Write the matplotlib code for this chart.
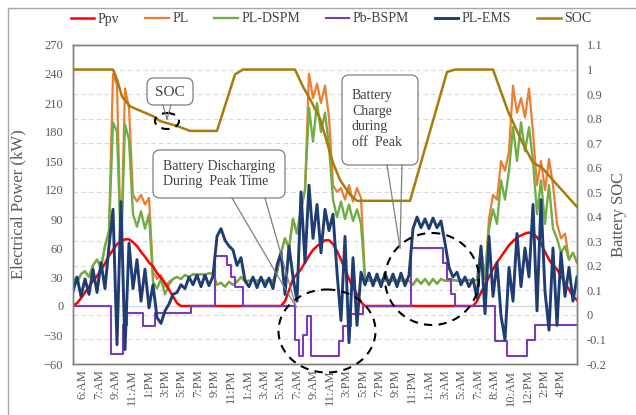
import numpy as np
import matplotlib
matplotlib.use("Agg")
import matplotlib.pyplot as plt
from matplotlib.patches import FancyBboxPatch, Ellipse
from matplotlib.lines import Line2D
from matplotlib.transforms import blended_transform_factory

plt.rcParams['font.family'] = ['Liberation Serif', 'DejaVu Serif']

# ---------------- data ----------------
time_labels = ["6:AM", "7:AM", "9:AM", "11:AM", "1:PM", "3:PM", "5:PM", "7:PM",
               "9:PM", "11:PM", "1:AM", "3:AM", "5:AM", "7:AM", "9:AM", "11:AM",
               "3:PM", "5:PM", "7:PM", "9:PM", "11:PM", "1:AM", "3:AM", "5:AM",
               "7:AM", "8:AM", "10:AM", "12:PM", "2:PM", "4:PM"]

ppv = [0, 3, 8, 14, 20, 26, 31, 37, 44, 52,
       58, 64, 67, 69, 69, 66, 62, 56, 51, 45,
       41, 34, 29, 24, 17, 10, 3, 0, 0, 0,
       0, 0, 0, 0, 0, 0, 0, 0, 0, 0,
       0, 0, 0, 0, 0, 0, 0, 0, 0, 0,
       0, 0, 0, 5, 16, 28, 33, 38, 45, 52,
       58, 62, 65, 68, 68, 64, 57, 48, 38, 28,
       19, 12, 4, 0, 0, 0, 0, 0, 0, 0,
       0, 0, 0, 0, 0, 0, 0, 0, 0, 0,
       0, 0, 0, 0, 0, 0, 0, 0, 0, 0,
       0, 5, 14, 22, 30, 38, 45, 51, 57, 63,
       67, 71, 73, 75, 76, 75, 71, 65, 56, 48,
       42, 38, 31, 24, 17, 10, 6]

pl = [30, 24, 33, 36, 30, 42, 48, 40, 62, 78,
      240, 228, 55, 225, 205, 115, 108, 115, 105, 112,
      35, 28, 32, 20, 25, 28, 30, 28, 32, 30,
      33, 32, 33, 32, 34, 33, 22, 24, 20, 25,
      22, 25, 30, 26, 26, 27, 26, 27, 26, 27,
      26, 35, 55, 70, 60, 90, 75, 100, 120, 240,
      215, 230, 210, 228, 195, 125, 118, 122, 110, 125,
      108, 122, 112, 28, 26, 27, 26, 27, 26, 27,
      26, 27, 26, 27, 26, 22, 28, 23, 28, 22,
      28, 23, 28, 26, 26, 27, 26, 27, 26, 27,
      26, 27, 60, 28, 90, 115, 110, 150, 140, 160,
      228, 200, 215, 195, 225, 180, 125, 150, 120, 152,
      125, 85, 70, 75, 48, 55, 45]

pl_dspm = [30, 24, 33, 36, 30, 42, 48, 40, 62, 78,
           190, 180, 55, 188, 172, 95, 82, 98, 80, 95,
           25, 18, 28, 12, 22, 28, 30, 28, 32, 30,
           33, 32, 33, 32, 34, 33, 22, 24, 20, 25,
           22, 25, 30, 26, 26, 27, 26, 27, 26, 27,
           26, 35, 55, 70, 60, 90, 75, 100, 120, 205,
           170, 210, 180, 200, 165, 110, 92, 108, 90, 105,
           88, 100, 85, 28, 26, 27, 26, 27, 26, 27,
           26, 27, 26, 27, 26, 22, 28, 23, 28, 22,
           28, 23, 28, 26, 26, 27, 26, 27, 26, 27,
           26, 27, 60, 28, 80, 100, 85, 130, 110, 140,
           185, 150, 190, 160, 185, 150, 95, 130, 85, 125,
           80, 70, 55, 62, 48, 55, 45]

pb_bspm = [0, 0, 0, 0, 0, 0, 0, 0, 0, 0,
           -50, -50, -50, -20, -7, -7, -7, -7, -21, -21,
           -21, -7, -7, -7, -7, -7, -7, -7, -7, -7,
           0, 0, 0, 0, 0, 0, 52, 52, 52, 42,
           30, 20, 20, 0, 0, 0, 0, 0, 0, 0,
           0, 0, 0, 0, 0, 0, -35, -52, -30, -10,
           -52, -52, -52, -52, -52, -52, -52, -36, -21, -21,
           -8, -8, -8, 0, 0, 0, 0, 0, 0, 0,
           0, 0, 0, 0, 0, 60, 60, 60, 60, 60,
           60, 60, 60, 45, 28, 12, 0, 0, 0, 0,
           0, 0, 0, 0, 0, 0, -36, -36, -36, -52,
           -52, -52, -52, -52, -35, -35, -20, -20, -20, -20,
           -20, -20, -20, -20, -20, -20, -20]

pl_ems = [15, 30, 10, 28, 12, 38, 14, 45, 18, 62,
          100, -40, 108, -45, 65, 18, 48, 5, 38, -2,
          22, -12, -18, -5, 2, 12, 14, 22, 18, 30,
          22, 32, 20, 32, 21, 31, 72, 80, 68, 62,
          58, 42, 50, 26, 20, 30, 19, 30, 20, 29,
          18, 42, 55, 12, 62, 30, 5, 118, 45, 125,
          70, 105, 55, 100, 78, 95, 35, -15, 72, -38,
          50, -20, 35, 22, 34, 21, 33, 20, 34, 22,
          33, 20, 34, 21, 32, 80, 92, 81, 90, 80,
          91, 81, 88, 65, 40, 30, 35, 22, 30, 20,
          28, 8, 62, -8, 72, 10, 45, -10, -35, 40,
          5, 75, 20, 60, 30, 105, -5, 110, 15, -25,
          60, -20, 55, 10, 40, 5, 30]

# SOC: sample index (same time grid as above) and value
soc_idx = [0, 10, 11, 12.25, 14.25, 20, 21.75, 26, 29.25, 36, 40.5, 42.5,
           55.5, 57.5, 59.25, 61.75, 65, 66.75, 69.25, 71, 84.25, 93.5, 95.5,
           105, 108.75, 112.25, 115, 117.25, 120.5, 126]
soc_val = [1.0, 1.0, 0.96, 0.89, 0.85, 0.81, 0.79, 0.77, 0.75, 0.75, 0.98, 1.0,
           1.0, 0.93, 0.88, 0.80, 0.62, 0.55, 0.49, 0.465, 0.465, 0.99, 1.0,
           1.0, 0.83, 0.705, 0.62, 0.60, 0.54, 0.44]

power_ticks = list(range(-60, 271, 30))
soc_ticks = [-0.2, -0.1, 0, 0.1, 0.2, 0.3, 0.4, 0.5, 0.6, 0.7, 0.8, 0.9, 1, 1.1]

# ---------------- figure ----------------
W, H = 636, 415
fig = plt.figure(figsize=(W / 100, H / 100), dpi=100)
ax = fig.add_axes([73 / W, 1 - 364 / H, 504 / W, 319 / H])
ax2 = ax.twinx()

XMIN, XMAX = -0.6, 30.0
t = np.linspace(XMIN, XMAX, len(ppv))
step = t[1] - t[0]
t_soc = XMIN + np.array(soc_idx) * step

ax.set_xlim(XMIN, XMAX)
ax.set_ylim(-60, 270)
ax2.set_ylim(-0.2, 1.1)

txt_col = '#595959'
c_ppv, c_pl, c_dspm, c_pb, c_ems, c_soc = '#FF0000', '#ED7D31', '#70AD47', '#7A3DB8', '#1F3D73', '#A67C0A'

l_pl, = ax.plot(t, pl, color=c_pl, lw=1.6, zorder=2, label='PL')
l_dspm, = ax.plot(t, pl_dspm, color=c_dspm, lw=1.7, zorder=3, label='PL-DSPM')
l_ppv, = ax.plot(t, ppv, color=c_ppv, lw=1.8, zorder=4, label='Ppv')
l_pb, = ax.plot(t, pb_bspm, color=c_pb, lw=1.5, drawstyle='steps-mid', zorder=5, label='Pb-BSPM')
l_ems, = ax.plot(t, pl_ems, color=c_ems, lw=2.1, zorder=6, label='PL-EMS')
l_soc, = ax2.plot(t_soc, soc_val, color=c_soc, lw=1.8, zorder=7, label='SOC')

# gridlines at SOC ticks, drawn behind data
gtrans = blended_transform_factory(ax.transAxes, ax2.transData)
for s in soc_ticks[1:-1]:
    ax.add_line(Line2D([0, 1], [s, s], transform=gtrans, color='#D9D9D9',
                       lw=0.8, ls=(0, (4, 3)), zorder=0.5))
ax.axhline(0, color='#D9D9D9', lw=1.0, zorder=0.6)

ax.set_yticks(power_ticks)
ax.set_xticks(range(len(time_labels)))
ax.set_xticklabels(time_labels, rotation=90, fontsize=9, color=txt_col)
ax.tick_params(axis='both', length=0, labelsize=9, labelcolor=txt_col)
ax.tick_params(axis='y', pad=7)
ax.tick_params(axis='x', pad=4)
ax2.set_yticks(soc_ticks)
ax2.set_yticklabels(['%g' % s for s in soc_ticks])
ax2.tick_params(axis='y', length=0, labelsize=9, labelcolor=txt_col, pad=7)

for a in (ax, ax2):
    for sp in a.spines.values():
        sp.set_color('#7F7F7F')
        sp.set_linewidth(1.0)

ax.set_ylabel('Electrical Power (kW)', fontsize=12, color=txt_col)
ax.yaxis.set_label_coords(-0.093, 0.50)
ax2.set_ylabel('Battery SOC', fontsize=12, color=txt_col)
ax2.yaxis.set_label_coords(1.068, 0.47)

fig.legend(handles=[l_ppv, l_pl, l_dspm, l_pb, l_ems, l_soc], loc='center',
           bbox_to_anchor=(331 / W, 1 - 19 / H), ncol=6, frameon=False,
           fontsize=10, handlelength=1.7, handletextpad=0.25, columnspacing=1.85,
           labelcolor='#404040')

# ---------------- annotation overlay in pixel coordinates ----------------
ov = fig.add_axes([0, 0, 1, 1], zorder=10)
ov.set_xlim(0, W)
ov.set_ylim(H, 0)
ov.axis('off')

box_kw = dict(boxstyle='round,pad=0,rounding_size=7', fc='white', ec='#7F7F7F', lw=0.9)
line_kw = dict(color='#7F7F7F', lw=0.9)
ell_kw = dict(fill=False, ec='black', lw=1.5, ls=(0, (4, 3)))

# outer frame (top and left edges)
ov.plot([8, W], [8, 8], color='#A6A6A6', lw=1.0)
ov.plot([8, 8], [8, H], color='#A6A6A6', lw=1.0)

# SOC callout
ov.add_patch(Ellipse((167, 121), 24, 16, **ell_kw))
ov.plot([163, 167], [105, 119], **line_kw)
ov.plot([171, 167], [105, 119], **line_kw)
ov.add_patch(FancyBboxPatch((147, 78), 46, 27, **box_kw))
ov.text(170, 92, 'SOC', ha='center', va='center', fontsize=11, color='#404040')

# Discharging callout
ov.add_patch(Ellipse((327, 331), 97, 83, **ell_kw))
ov.plot([232, 296], [198, 307], **line_kw)
ov.plot([265, 296], [198, 307], **line_kw)
ov.add_patch(FancyBboxPatch((153, 150), 132, 48, **box_kw))
ov.text(163, 174, 'Battery Discharging\nDuring  Peak Time', ha='left', va='center',
        fontsize=10, color='#404040', linespacing=1.2)

# Charging callout
ov.add_patch(Ellipse((432, 279), 94, 92, **ell_kw))
ov.plot([387, 400], [165, 248], **line_kw)
ov.plot([402, 400], [165, 248], **line_kw)
ov.add_patch(FancyBboxPatch((342, 75), 76, 90, **box_kw))
ov.text(352, 119, 'Battery\nCharge\nduring\noff  Peak', ha='left', va='center',
        fontsize=10, color='#404040', linespacing=1.25)

fig.savefig('out.png', dpi=100)
